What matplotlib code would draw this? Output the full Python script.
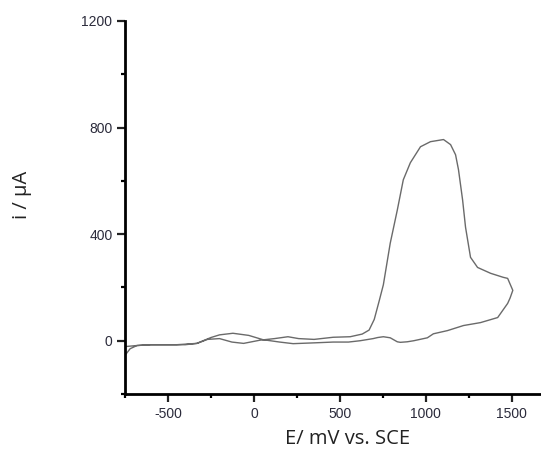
import matplotlib
matplotlib.use("Agg")
import matplotlib.pyplot as plt
from matplotlib.ticker import MultipleLocator

plt.rcParams["axes.unicode_minus"] = False

# Forward (anodic) scan
E_fwd = [-750, -720, -680, -600, -500, -400, -330, -270, -200, -128, -60, 35, 120, 198,
         260, 350, 461, 560, 630, 670, 700, 729, 753, 793, 834, 869, 910, 969, 1027,
         1103, 1144, 1173, 1190, 1214, 1231, 1260, 1301, 1377, 1450, 1476, 1506]
I_fwd = [-55, -30, -18, -15, -15, -15, -10, 5, 8, -5, -10, 2, 8, 15,
         8, 5, 13, 15, 25, 40, 80, 150, 210, 366, 490, 604, 668, 728, 747,
         755, 736, 698, 642, 528, 426, 313, 275, 253, 238, 234, 189]
# Reverse (cathodic) scan
E_rev = [1506, 1490, 1476, 1418, 1318, 1219, 1126, 1044, 1009, 930, 892, 852, 834, 793,
         753, 720, 694, 618, 550, 461, 350, 228, 150, 52, -30, -122, -200, -250,
         -333, -450, -600, -680, -750]
I_rev = [189, 160, 140, 87, 68, 57, 38, 26, 11, 0, -4, -6, -4, 11,
         15, 12, 8, 0, -5, -5, -8, -11, -5, 4, 20, 28, 22, 12,
         -10, -15, -15, -18, -22]

x_ticks = [-500, 0, 500, 1000, 1500]
y_ticks = [0, 400, 800, 1200]

fig = plt.figure(figsize=(5.41, 4.5), dpi=100)
ax = fig.add_axes([0.231, 0.1244, 0.769, 0.829])

ax.plot(E_fwd + E_rev, I_fwd + I_rev, color="#6a6a6a", lw=1.0)

ax.set_xlim(-750, 1670)
ax.set_ylim(-200, 1200)
ax.set_xticks(x_ticks)
ax.set_yticks(y_ticks)
ax.xaxis.set_minor_locator(MultipleLocator(250))
ax.yaxis.set_minor_locator(MultipleLocator(200))

for s in ["top", "right"]:
    ax.spines[s].set_visible(False)
for s in ["left", "bottom"]:
    ax.spines[s].set_linewidth(2.0)

ax.tick_params(which="major", direction="out", length=6, width=1.6, pad=3, colors="#222222")
ax.tick_params(which="minor", direction="out", length=3, width=1.6)
for lab in ax.get_xticklabels() + ax.get_yticklabels():
    lab.set_fontfamily(["Liberation Sans", "DejaVu Sans"])
    lab.set_fontsize(10)
    lab.set_color("#2b2b3b")

label_family = ["Open Sans", "DejaVu Sans"]
fig.text(0.643, 0.014, "E/ mV vs. SCE", ha="center", va="baseline",
         family=label_family, fontsize=14.5, color="#222222")
fig.text(0.041, 0.567, "i / µA", ha="center", va="center", rotation=90,
         family=label_family, fontsize=14.5, color="#222222")

fig.savefig("out.png", dpi=100)
